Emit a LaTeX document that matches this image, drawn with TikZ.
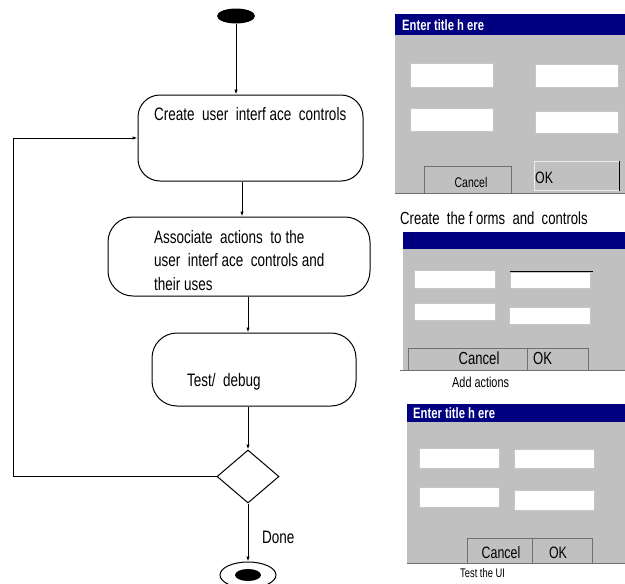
\documentclass[tikz,border=0pt]{standalone}
\usepackage{fontspec}
\setmainfont{Liberation Sans}[FakeStretch=0.75]
\usetikzlibrary{shapes.geometric,arrows.meta}
\definecolor{navy}{HTML}{000080}
\definecolor{wgray}{HTML}{C0C0C0}
\definecolor{edge}{HTML}{707070}
\begin{document}
\begin{tikzpicture}[x=1pt,y=-1pt,
  act/.style={draw, line width=1pt, rounded corners=22pt, inner sep=0},
  arr/.style={draw, line width=1pt, -{Latex[length=5pt,width=3.5pt]}},
  lbl/.style={inner sep=0, font=\fontsize{18}{23.5}\selectfont},
  fld/.style={fill=white, draw=gray!45, line width=0.7pt, anchor=north west, inner sep=0},
  btn/.style={fill=wgray, draw=edge, line width=0.7pt, anchor=north west, inner sep=0},
  bar/.style={fill=navy, anchor=north west, inner sep=0},
  ttl/.style={anchor=west, text=white, inner sep=0, font=\bfseries\fontsize{15}{15}\selectfont},
  btxt/.style={inner sep=0, font=\fontsize{15}{15}\selectfont}
]
\useasboundingbox (0,0) rectangle (625,584);

% ---------- flow chart ----------
\node[ellipse, fill=black, minimum width=38pt, minimum height=15pt, inner sep=0] (st) at (236,16) {};
\node[act, minimum width=225pt, minimum height=86pt] (b1) at (250.5,138) {};
\node[lbl, anchor=west] (b1t) at (154,114) {Create \ user \ interf ace \ controls};
\node[act, rounded corners=25pt, minimum width=262pt, minimum height=79pt] (b2) at (239,256.5) {};
\node[lbl, anchor=north west, align=left] (b2t) at (154,230) {Associate \ actions \ to the\\user \ interf ace \ controls and\\their uses};
\node[act, rounded corners=25pt, minimum width=204pt, minimum height=73pt] (b3) at (254,369.5) {};
\node[lbl, anchor=west] (b3t) at (187,382) {Test/ \ debug};
\node[diamond, draw, line width=1pt, minimum width=62pt, minimum height=53pt, inner sep=0] (dia) at (248,476.5) {};
\node[ellipse, draw, line width=1pt, minimum width=56pt, minimum height=26pt, inner sep=0] (en) at (248,575) {};
\node[ellipse, fill=black, minimum width=26pt, minimum height=12pt, inner sep=0] (enin) at (en.center) {};
\node[lbl, anchor=west] (done) at (262,537) {Done};

\coordinate (x2) at (242,0);
\coordinate (x3) at (248,0);
\coordinate (fb) at (13,138);
\draw[arr] (st.south) -- (st.south |- b1.north);
\draw[arr] (x2 |- b1.south) -- (x2 |- b2.north);
\draw[arr] (x3 |- b2.south) -- (x3 |- b3.north);
\draw[arr] (x3 |- b3.south) -- (dia.north);
\draw[arr] (dia.south) -- (en.north);
\draw[arr] (dia.west) -| (fb) -- (fb -| b1.west);

% ---------- panel 1 ----------
\fill[wgray] (395,35) rectangle (625,193);
\node[bar, minimum width=230pt, minimum height=21pt] (p1bar) at (395,14) {};
\node[ttl] (p1t) at (402,25) {Enter title h ere};
\node[fld, minimum width=83pt, minimum height=24pt] (f11) at (410,63) {};
\node[fld, minimum width=83pt, minimum height=23pt] (f12) at (535,64) {};
\node[fld, minimum width=83pt, minimum height=23pt] (f13) at (410,108) {};
\node[fld, minimum width=83pt, minimum height=22pt] (f14) at (535,111) {};
\node[btn, minimum width=87pt, minimum height=27pt] (c1) at (424,166) {};
\node[btxt, font=\fontsize{14}{14}\selectfont] (c1t) at (471,182) {Cancel};
\node[btn, draw=gray!15, minimum width=85pt, minimum height=29pt] (o1) at (534,161) {};
\draw[line width=1pt] (o1.north east) -- (o1.south east);
\node[btxt, anchor=west, font=\fontsize{16.5}{16.5}\selectfont] (o1t) at (535,178) {OK};
\draw[edge, line width=1pt] (395,193.5) -- (625,193.5);

% ---------- panel 2 ----------
\node[lbl, anchor=west, font=\fontsize{17.5}{17.5}\selectfont] (p2c) at (400,218) {Create \ the f orms \ and \ controls};
\node[bar, minimum width=222pt, minimum height=17pt] (p2bar) at (403,232) {};
\fill[wgray] (403,249) rectangle (625,370);
\node[fld, minimum width=81pt, minimum height=18pt] (f21) at (414,270) {};
\node[fld, minimum width=80pt, minimum height=16pt] (f22) at (510,272) {};
\draw[line width=0.8pt] (510,271) -- (593,271);
\node[fld, minimum width=81pt, minimum height=17pt] (f23) at (414,303) {};
\node[fld, minimum width=81pt, minimum height=17pt] (f24) at (509,307) {};
\node[btn, minimum width=119pt, minimum height=22pt] (c2) at (408,348) {};
\node[btxt, font=\fontsize{17.5}{17.5}\selectfont] (c2t) at (479,358) {Cancel};
\node[btn, minimum width=61pt, minimum height=22pt] (o2) at (527,348) {};
\node[btxt, anchor=west, font=\fontsize{17.5}{17.5}\selectfont] (o2t) at (533,358) {OK};
\draw[edge, line width=1pt] (400,370) -- (625,370);
\node[btxt, anchor=west, font=\fontsize{14.5}{14.5}\selectfont] (p2a) at (452,382) {Add actions};

% ---------- panel 3 ----------
\node[bar, minimum width=218pt, minimum height=18pt] (p3bar) at (407,404) {};
\node[ttl] (p3t) at (413,413) {Enter title h ere};
\fill[wgray] (407,422) rectangle (625,563);
\node[fld, minimum width=80pt, minimum height=20pt] (f31) at (419,448) {};
\node[fld, minimum width=80pt, minimum height=19pt] (f32) at (514,449) {};
\node[fld, minimum width=80pt, minimum height=20pt] (f33) at (419,487) {};
\node[fld, minimum width=80pt, minimum height=20pt] (f34) at (514,490) {};
\node[btn, minimum width=65pt, minimum height=25pt] (c3) at (467,538) {};
\node[btxt, font=\fontsize{16.5}{16.5}\selectfont] (c3t) at (501,553) {Cancel};
\node[btn, minimum width=60pt, minimum height=25pt] (o3) at (532,538) {};
\node[btxt, font=\fontsize{16.5}{16.5}\selectfont] (o3t) at (558,553) {OK};
\draw[edge, line width=1pt] (407,563) -- (625,563);
\node[btxt, anchor=west, font=\fontsize{12.5}{12.5}\selectfont] (p3a) at (460,573) {Test the UI};
\end{tikzpicture}
\end{document}
